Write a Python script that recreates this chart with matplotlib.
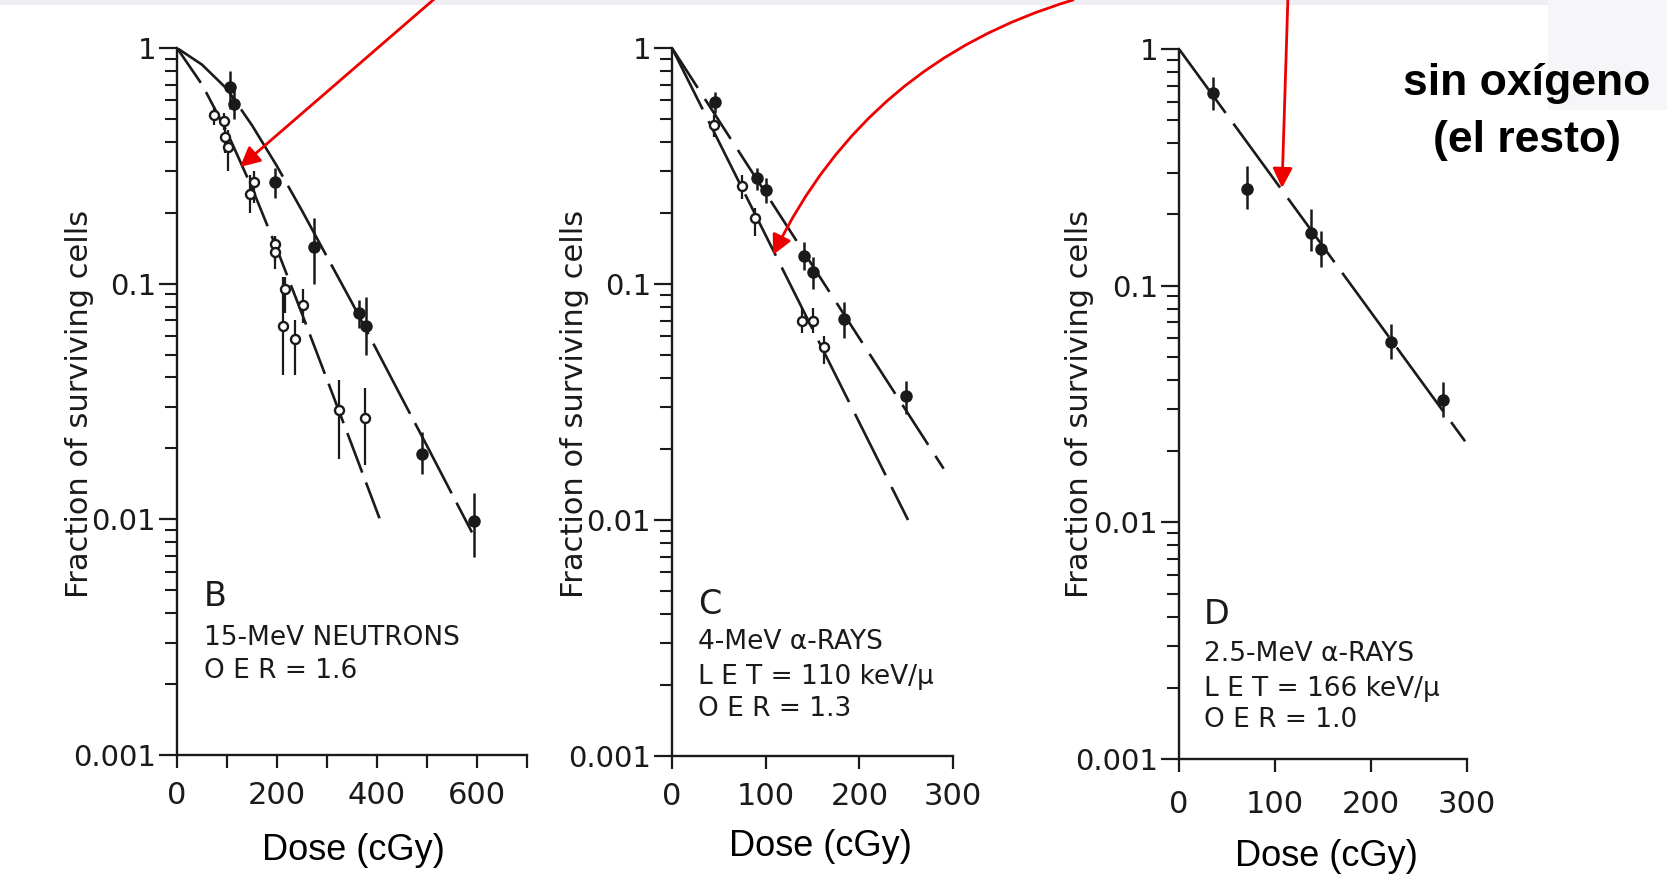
import numpy as np
import matplotlib
matplotlib.use("Agg")
import matplotlib.pyplot as plt
from matplotlib.patches import FancyArrowPatch, Rectangle
from matplotlib.ticker import LogLocator, NullFormatter

# ---- data (dose in cGy, surviving fraction) ----
# panel B: 15-MeV neutrons
b_fill_dose = [105, 113, 196, 273, 364, 378, 489, 593]
b_fill_surv = [0.68, 0.58, 0.27, 0.143, 0.075, 0.066, 0.019, 0.0098]
b_fill_lo = [0.55, 0.50, 0.23, 0.10, 0.065, 0.050, 0.0155, 0.0069]
b_fill_hi = [0.80, 0.68, 0.31, 0.19, 0.085, 0.088, 0.0235, 0.0129]
b_open_dose = [73, 93, 95, 102, 145, 153, 196, 196, 215, 211, 251, 236, 324, 375]
b_open_surv = [0.52, 0.49, 0.42, 0.38, 0.24, 0.27, 0.148, 0.136, 0.095, 0.066,
               0.081, 0.058, 0.029, 0.027]
b_open_lo = [0.47, 0.45, 0.36, 0.30, 0.20, 0.22, 0.125, 0.115, 0.075, 0.041,
             0.068, 0.041, 0.018, 0.017]
b_open_hi = [0.57, 0.53, 0.50, 0.45, 0.29, 0.30, 0.16, 0.16, 0.107, 0.107,
             0.095, 0.070, 0.039, 0.036]
b_curve1_dose = [0, 50, 100, 150, 200, 250, 300, 350, 400, 450, 500, 550, 590]
b_curve1_surv = [1.0, 0.85, 0.67, 0.47, 0.315, 0.204, 0.130, 0.083, 0.052,
                 0.0326, 0.0205, 0.0128, 0.0088]
b_curve2_dose = [0, 50, 100, 150, 200, 250, 300, 350, 405]
b_curve2_surv = [1.0, 0.70, 0.44, 0.255, 0.140, 0.0745, 0.0392, 0.0206, 0.0101]

# panel C: 4-MeV alpha rays
c_fill_dose = [46, 91, 100, 141, 150, 184, 250]
c_fill_surv = [0.59, 0.28, 0.25, 0.132, 0.112, 0.071, 0.0335]
c_fill_lo = [0.53, 0.25, 0.22, 0.115, 0.095, 0.059, 0.028]
c_fill_hi = [0.65, 0.31, 0.28, 0.15, 0.13, 0.084, 0.039]
c_open_dose = [45, 75, 89, 139, 150, 162]
c_open_surv = [0.47, 0.26, 0.19, 0.070, 0.070, 0.054]
c_open_lo = [0.42, 0.23, 0.16, 0.062, 0.062, 0.046]
c_open_hi = [0.52, 0.29, 0.21, 0.079, 0.079, 0.060]
c_curve1_dose = [0, 290]
c_curve1_surv = [1.0, 0.0165]
c_curve2_dose = [0, 252]
c_curve2_surv = [1.0, 0.0100]

# panel D: 2.5-MeV alpha rays
d_fill_dose = [35, 71, 137, 148, 221, 275]
d_fill_surv = [0.65, 0.255, 0.167, 0.143, 0.058, 0.033]
d_fill_lo = [0.55, 0.21, 0.14, 0.12, 0.049, 0.028]
d_fill_hi = [0.76, 0.32, 0.21, 0.17, 0.069, 0.039]
d_curve_dose = [0, 298]
d_curve_surv = [1.0, 0.022]

y_ticks = [0.001, 0.01, 0.1, 1]
y_ticklabels = ["0.001", "0.01", "0.1", "1"]

W, H = 1667, 877
INK = "#1a1a1a"
SCAN_FONT = "DejaVu Sans"
SLIDE_FONT = "Liberation Sans"

fig = plt.figure(figsize=(W / 100, H / 100), dpi=100)
fig.patch.set_facecolor("white")


def fx(x):
    return x / W


def fy(y):
    return 1 - y / H


def make_axes(x0, x1, ytop, ybot, xmax, xticks, xlabels, xpad):
    ax = fig.add_axes([fx(x0), fy(ybot), (x1 - x0) / W, (ybot - ytop) / H])
    ax.patch.set_alpha(0)
    ax.set_yscale("log")
    ax.set_ylim(0.001, 1)
    ax.set_xlim(0, xmax)
    for s in ("top", "right"):
        ax.spines[s].set_visible(False)
    for s in ("left", "bottom"):
        ax.spines[s].set_linewidth(1.7)
        ax.spines[s].set_color(INK)
    ax.set_yticks(y_ticks, y_ticklabels, fontfamily=SCAN_FONT)
    ax.yaxis.set_minor_locator(LogLocator(base=10, subs=range(2, 10)))
    ax.yaxis.set_minor_formatter(NullFormatter())
    ax.set_xticks(xticks, xlabels, fontfamily=SCAN_FONT)
    ax.tick_params(axis="y", which="major", direction="out", length=13, width=1.6,
                   labelsize=21, pad=2, colors=INK)
    ax.tick_params(axis="y", which="minor", direction="out", length=9, width=1.5,
                   colors=INK)
    ax.tick_params(axis="x", direction="out", length=9, width=1.6,
                   labelsize=22, pad=xpad, colors=INK)
    return ax


def points(ax, dose, surv, lo, hi, filled):
    dose = np.array(dose)
    surv = np.array(surv)
    err = [surv - np.array(lo), np.array(hi) - surv]
    if filled:
        ax.errorbar(dose, surv, yerr=err, fmt="o", ms=8, mfc=INK, mec=INK,
                    ecolor=INK, elinewidth=1.8, capsize=0, zorder=3, clip_on=False)
    else:
        ax.errorbar(dose, surv, yerr=err, fmt="o", ms=6.5, mfc="white", mec=INK,
                    mew=1.7, ecolor=INK, elinewidth=1.6, capsize=0, zorder=3,
                    clip_on=False)


def curve(ax, dose, surv, dashes):
    ax.plot(dose, surv, color=INK, lw=1.9, linestyle=(0, dashes), zorder=2)


# panel B
axB = make_axes(177, 527, 48, 755, 700, list(range(0, 701, 100)),
                ["0", "", "200", "", "400", "", "600", ""], 10)
curve(axB, b_curve1_dose, b_curve1_surv, (30, 4))
curve(axB, b_curve2_dose, b_curve2_surv, (16, 4))
points(axB, b_fill_dose, b_fill_surv, b_fill_lo, b_fill_hi, True)
points(axB, b_open_dose, b_open_surv, b_open_lo, b_open_hi, False)

# panel C
axC = make_axes(672, 953, 48, 756, 300, [0, 100, 200, 300],
                ["0", "100", "200", "300"], 10)
curve(axC, c_curve1_dose, c_curve1_surv, (18, 5))
curve(axC, c_curve2_dose, c_curve2_surv, (26, 5))
points(axC, c_fill_dose, c_fill_surv, c_fill_lo, c_fill_hi, True)
points(axC, c_open_dose, c_open_surv, c_open_lo, c_open_hi, False)

# panel D
axD = make_axes(1179, 1467, 49, 759, 300, [0, 100, 200, 300],
                ["0", "100", "200", "300"], 13)
curve(axD, d_curve_dose, d_curve_surv, (30, 5))
points(axD, d_fill_dose, d_fill_surv, d_fill_lo, d_fill_hi, True)

# y labels of the scan
for xc in (79, 574, 1079):
    fig.text(fx(xc), fy(404), "Fraction of surviving cells", rotation=90,
             ha="center", va="center", fontsize=22, color=INK, family=SCAN_FONT)

# panel captions
captions = [
    (204, [(596, "B", 24), (638, "15-MeV NEUTRONS", 19), (671, "O E R = 1.6", 19)]),
    (698, [(604, "C", 24), (642, "4-MeV α-RAYS", 19), (677, "L E T = 110 keV/μ", 19),
           (709, "O E R = 1.3", 19)]),
    (1204, [(615, "D", 24), (654, "2.5-MeV α-RAYS", 19), (689, "L E T = 166 keV/μ", 19),
            (720, "O E R = 1.0", 19)]),
]
for x0, lines in captions:
    for yc, txt, fs in lines:
        fig.text(fx(x0), fy(yc), txt, ha="left", va="center", fontsize=fs,
                 color=INK, family=SCAN_FONT)

# slide annotations
for xc, yc in ((353, 850), (820, 847), (1326, 857)):
    fig.text(fx(xc), fy(yc), "Dose (cGy)", ha="center", va="center",
             fontsize=26, color="black", family=SLIDE_FONT)

fig.text(fx(1527), fy(95), "sin oxígeno", ha="center", va="baseline",
         fontsize=32, fontweight="bold", color="black", family=SLIDE_FONT)
fig.text(fx(1527), fy(152), "(el resto)", ha="center", va="baseline",
         fontsize=32, fontweight="bold", color="black", family=SLIDE_FONT)

# slide background bits around the pasted scan
fig.add_artist(Rectangle((0, fy(5)), 1, 5 / H, transform=fig.transFigure,
                         color="#eeeef3", zorder=0, lw=0))
fig.add_artist(Rectangle((fx(1548), fy(110)), 1 - fx(1548), 110 / H,
                         transform=fig.transFigure, color="#f6f6f9", zorder=0, lw=0))

# red arrows
arrow_kw = dict(transform=fig.transFigure, arrowstyle="-|>,head_length=0.6,head_width=0.3",
                mutation_scale=20, color="#ee0000", lw=2.0, shrinkA=0, shrinkB=0,
                zorder=10)
fig.add_artist(FancyArrowPatch((fx(447), fy(-12)), (fx(240), fy(167)), **arrow_kw))
fig.add_artist(FancyArrowPatch((fx(1073), fy(0)), (fx(773), fy(255)),
                               connectionstyle="arc3,rad=0.22", **arrow_kw))
fig.add_artist(FancyArrowPatch((fx(1288), fy(-5)), (fx(1282), fy(188)), **arrow_kw))

fig.savefig("out.png", dpi=100, facecolor=fig.get_facecolor())
